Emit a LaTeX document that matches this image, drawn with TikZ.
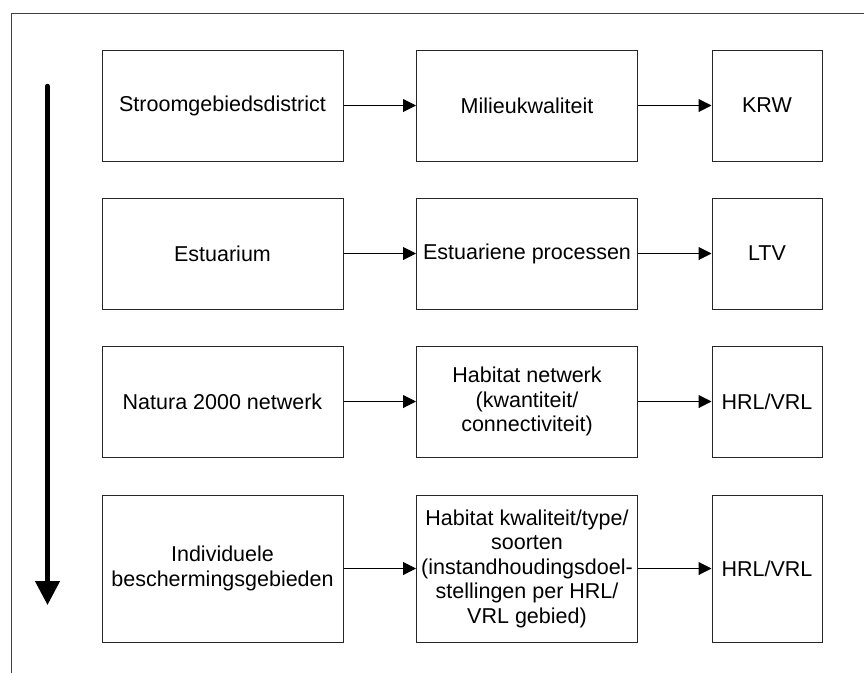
\documentclass[tikz,border=0pt]{standalone}
\usepackage{fontspec}
\setmainfont{Liberation Sans}
\usetikzlibrary{arrows.meta}
\begin{document}
\begin{tikzpicture}[x=1pt,y=-1pt,
  box/.style={draw=black!85,line width=1pt,rectangle,align=center,inner sep=2pt,
    font=\fontsize{21.5}{24.5}\selectfont},
  wide/.style={box,minimum width=241pt},
  mid/.style={box,minimum width=221pt},
  narrow/.style={box,minimum width=110pt},
  rowbox/.style={minimum height=111pt},
  tallbox/.style={minimum height=147pt},
  link/.style={line width=1pt,-{Triangle[length=13pt,width=13pt]}},
  frameline/.style={draw=black!75,line width=1pt}]
\useasboundingbox (0,0) rectangle (864,673);
% open frame: top and left edges
\coordinate (fr) at (864,13);
\coordinate (fc) at (11,13);
\coordinate (fb) at (11,673);
\draw[frameline] (fr) -- (fc) -- (fb);

% row 1
\node[wide,rowbox] (a1) at (222.5,105.5) {Stroomgebiedsdistrict};
\node[mid,rowbox] (b1) at (527,105.5) {Milieukwaliteit};
\node[narrow,rowbox] (c1) at (767,105.5) {KRW};
% row 2
\node[wide,rowbox] (a2) at (222.5,253.5) {Estuarium};
\node[mid,rowbox] (b2) at (527,253.5) {Estuariene processen};
\node[narrow,rowbox] (c2) at (767,253.5) {LTV};
% row 3
\node[wide,rowbox] (a3) at (222.5,401.5) {Natura 2000 netwerk};
\node[mid,rowbox] (b3) at (527,401.5) {Habitat netwerk\\(kwantiteit/\\connectiviteit)};
\node[narrow,rowbox] (c3) at (767,401.5) {HRL/VRL};
% row 4
\node[wide,tallbox] (a4) at (222.5,568.5) {Individuele\\beschermingsgebieden};
\node[mid,tallbox] (b4) at (527,568.5) {Habitat kwaliteit/type/\\soorten\\(instandhoudingsdoel-\\stellingen per HRL/\\VRL gebied)};
\node[narrow,tallbox] (c4) at (767,568.5) {HRL/VRL};

\foreach \r in {1,2,3,4}{
  \draw[link] (a\r) -- (b\r);
  \draw[link] (b\r) -- (c\r);
}

% scale arrow on the left
\coordinate (s0) at (47.5,86);
\coordinate (s1) at (47.5,605);
\draw[line width=4.5pt,line cap=round,-{Triangle[length=24pt,width=24pt]}] (s0) -- (s1);
\end{tikzpicture}
\end{document}
